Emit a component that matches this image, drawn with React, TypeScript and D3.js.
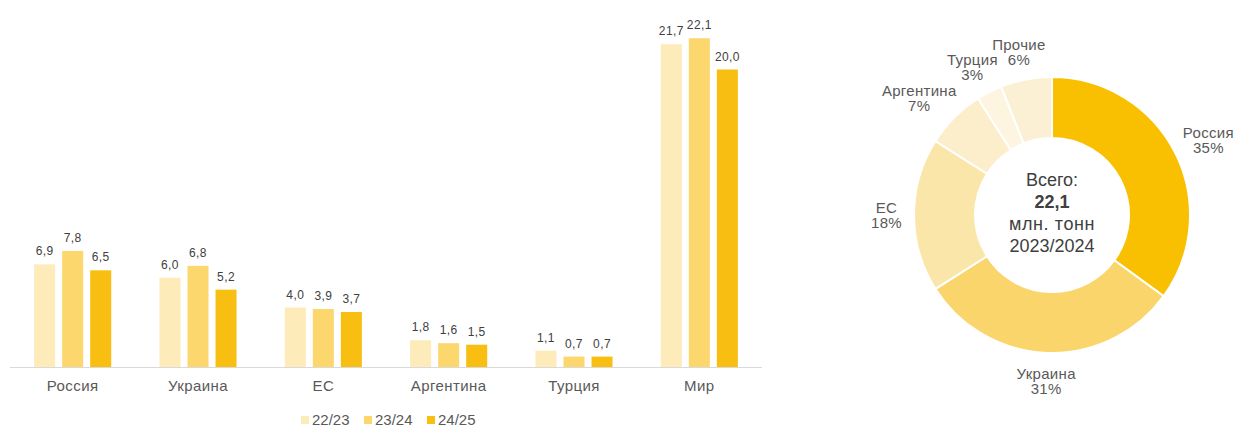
import React, { useEffect, useRef } from "react";
import * as d3 from "d3";

const categories = ["Россия", "Украина", "ЕС", "Аргентина", "Турция", "Мир"];
const seasons = ["22/23", "23/24", "24/25"];
const values2223 = [6.9, 6.0, 4.0, 1.8, 1.1, 21.7];
const values2324 = [7.8, 6.8, 3.9, 1.6, 0.7, 22.1];
const values2425 = [6.5, 5.2, 3.7, 1.5, 0.7, 20.0];
const seasonColors = ["#FDEBB9", "#FCD76E", "#F8BF12"];

const shareNames = ["Россия", "Украина", "ЕС", "Аргентина", "Турция", "Прочие"];
const shareValues = [35, 31, 18, 7, 3, 6];
const shareColors = ["#F8C000", "#FAD56C", "#FBE6AA", "#FCEDCB", "#FDF5E0", "#FCF0D4"];
const centerLines = ["Всего:", "22,1", "млн. тонн", "2023/2024"];

const fmt = (v: number) => v.toFixed(1).replace(".", ",");

export default function App() {
  const svgRef = useRef<SVGSVGElement>(null);

  useEffect(() => {
    const width = 1236;
    const height = 427;
    const svg = d3.select(svgRef.current).attr("width", width).attr("height", height);
    svg.selectAll("*").remove();

    const font = "'Liberation Sans', Arial, sans-serif";
    const textColor = "#595959";

    // ---- bar chart ----
    const series = [values2223, values2324, values2425];
    const x0 = d3.scaleBand().domain(categories).range([10, 762]).paddingInner(0.385).paddingOuter(0.1925);
    const x1 = d3.scaleBand().domain(seasons).range([0, x0.bandwidth()]).paddingInner(0.25);
    const y = d3.scaleLinear().domain([0, 24]).range([367, 10]);

    const rows = categories.flatMap((c, i) => seasons.map((s, j) => ({ cat: c, season: s, value: series[j][i], color: seasonColors[j] })));

    const bars = svg.append("g");
    bars
      .selectAll("rect")
      .data(rows)
      .enter()
      .append("rect")
      .attr("x", (d) => x0(d.cat)! + x1(d.season)!)
      .attr("y", (d) => y(d.value))
      .attr("width", x1.bandwidth())
      .attr("height", (d) => y(0) - y(d.value))
      .attr("fill", (d) => d.color);

    bars
      .selectAll("text")
      .data(rows)
      .enter()
      .append("text")
      .attr("x", (d) => x0(d.cat)! + x1(d.season)! + x1.bandwidth() / 2)
      .attr("y", (d) => y(d.value) - 9)
      .attr("text-anchor", "middle")
      .style("font-family", "'Liberation Sans Narrow', 'Liberation Sans', sans-serif")
      .style("font-size", "12px")
      .style("letter-spacing", "0.4px")
      .style("fill", "#404040")
      .text((d) => fmt(d.value));

    // axis line
    svg
      .append("line")
      .attr("x1", x0.range()[0])
      .attr("x2", x0.range()[1])
      .attr("y1", y(0) + 0.5)
      .attr("y2", y(0) + 0.5)
      .attr("stroke", "#D9D9D9")
      .attr("stroke-width", 1);

    svg
      .append("g")
      .selectAll("text")
      .data(categories)
      .enter()
      .append("text")
      .attr("x", (d) => x0(d)! + x0.bandwidth() / 2)
      .attr("y", y(0) + 24)
      .attr("text-anchor", "middle")
      .style("font-family", font)
      .style("font-size", "15px")
      .style("letter-spacing", "0.4px")
      .style("fill", textColor)
      .text((d) => d);

    // legend
    const legend = svg.append("g").attr("transform", "translate(301, 420)");
    seasons.forEach((s, i) => {
      const g = legend.append("g").attr("transform", `translate(${i * 63}, 0)`);
      g.append("rect").attr("x", 0).attr("y", -4).attr("width", 8).attr("height", 8).attr("fill", seasonColors[i]);
      g.append("text")
        .attr("x", 11)
        .attr("y", 5)
        .style("font-family", font)
        .style("font-size", "15px")
        .style("fill", textColor)
        .text(s);
    });

    // ---- donut ----
    const cx = 1052;
    const cy = 215;
    const outerR = 138;
    const innerR = 77;
    const pieData = shareNames.map((n, i) => ({ name: n, value: shareValues[i], color: shareColors[i] }));
    const pie = d3.pie<any>().value((d) => d.value).sort(null);
    const arc = d3.arc<any>().innerRadius(innerR).outerRadius(outerR);
    const arcs = pie(pieData);

    const donut = svg.append("g").attr("transform", `translate(${cx}, ${cy})`);
    donut
      .selectAll("path")
      .data(arcs)
      .enter()
      .append("path")
      .attr("d", arc as any)
      .attr("fill", (d) => d.data.color)
      .attr("stroke", "#fff")
      .attr("stroke-width", 2);

    // slice labels, placed just outside the ring
    const labelR = 150;
    arcs.forEach((d) => {
      const a = (d.startAngle + d.endAngle) / 2;
      const g = donut.append("g");
      const t = g
        .append("text")
        .attr("text-anchor", "middle")
        .style("font-family", font)
        .style("font-size", "15px")
        .style("letter-spacing", "0.3px")
        .style("fill", textColor);
      t.append("tspan").attr("x", 0).attr("dy", 0).text(d.data.name);
      t.append("tspan").attr("x", 0).attr("dy", 15).text(`${d.data.value}%`);
      const box = (t.node() as SVGTextElement).getBBox();
      const px = labelR * Math.sin(a) + Math.sin(a) * (box.width / 2);
      const py = -labelR * Math.cos(a) - Math.cos(a) * (box.height / 2);
      const bx = px - (box.x + box.width / 2);
      const by = py - (box.y + box.height / 2);
      g.attr("transform", `translate(${bx}, ${by})`);
    });

    // center text
    const center = donut.append("text").attr("text-anchor", "middle").style("font-family", font).style("fill", "#404040");
    centerLines.forEach((line, i) => {
      center
        .append("tspan")
        .attr("x", 0)
        .attr("y", -29 + i * 22)
        .style("font-size", "18px")
        .style("font-weight", i === 1 ? "bold" : "normal")
        .style("letter-spacing", i === 2 ? "0.6px" : "0px")
        .text(line);
    });
  }, []);

  return <svg ref={svgRef} style={{ position: "absolute", left: 0, top: 0, background: "#fff" }}></svg>;
}
